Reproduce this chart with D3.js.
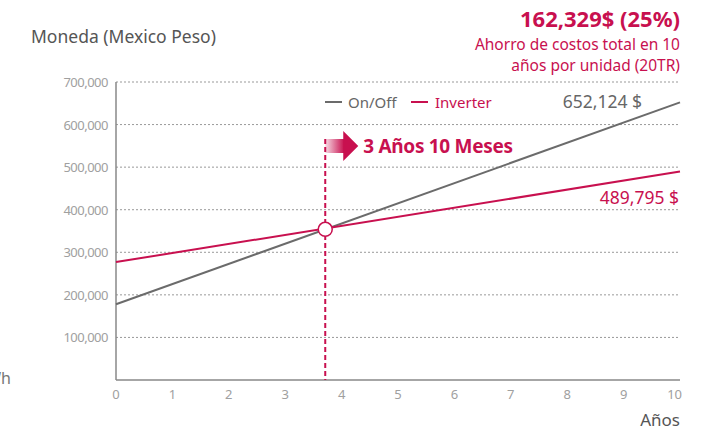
<!DOCTYPE html>
<html>
<head>
<meta charset="utf-8">
<script src="https://cdn.jsdelivr.net/npm/d3@7"></script>
<style>
  body { margin: 0; background: #fff; }
  svg text { font-family: "Noto Sans", "Open Sans", sans-serif; }
</style>
</head>
<body>
<svg id="chart" width="708" height="432"></svg>
<script>
// chart values
const years = [0, 10];
const onOff = [178000, 652124];
const inverter = [277000, 489795];
const yTicks = [100000, 200000, 300000, 400000, 500000, 600000, 700000];
const xTicks = [0, 1, 2, 3, 4, 5, 6, 7, 8, 9, 10];
const payback = 3.71;   // where the marker sits in the picture
const crossValue = 354000;

const red = "#c8104f";
const grey = "#6b6b6b";

const svg = d3.select("#chart");
const x = d3.scaleLinear().domain([0, 10]).range([116, 680]);
const y = d3.scaleLinear().domain([0, 700000]).range([380, 82]);

// gridlines
svg.append("g").selectAll("line")
  .data(yTicks)
  .enter().append("line")
  .attr("x1", x(0)).attr("x2", x(10))
  .attr("y1", d => y(d)).attr("y2", d => y(d))
  .attr("stroke", "#999").attr("stroke-width", 1)
  .attr("stroke-dasharray", "2,2");

// y tick labels
svg.append("g").selectAll("text")
  .data(yTicks)
  .enter().append("text")
  .attr("x", 108).attr("y", d => y(d) + 5)
  .attr("text-anchor", "end")
  .attr("font-size", 13).attr("fill", "#a0a0a0")
  .attr("letter-spacing", "-0.5")
  .text(d => d3.format(",")(d));

// x tick labels
svg.append("g").selectAll("text")
  .data(xTicks)
  .enter().append("text")
  .attr("x", d => x(d)).attr("y", 399)
  .attr("text-anchor", d => d === 10 ? "end" : "middle")
  .attr("dx", d => d === 10 ? 2 : 0)
  .attr("font-size", 13).attr("fill", "#a0a0a0")
  .text(d => d);

// axes
svg.append("line")
  .attr("x1", x(0)).attr("x2", x(0)).attr("y1", y(700000)).attr("y2", y(0))
  .attr("stroke", "#888").attr("stroke-width", 1.5);
svg.append("line")
  .attr("x1", x(0)).attr("x2", x(10)).attr("y1", y(0)).attr("y2", y(0))
  .attr("stroke", "#888").attr("stroke-width", 1.5);

// payback dashed line
svg.append("line")
  .attr("x1", x(payback)).attr("x2", x(payback))
  .attr("y1", 139).attr("y2", y(0))
  .attr("stroke", red).attr("stroke-width", 2)
  .attr("stroke-dasharray", "5,3");

// series lines
const line = d3.line().x(d => x(d[0])).y(d => y(d[1]));
svg.append("path")
  .datum(d3.zip(years, onOff))
  .attr("d", line).attr("fill", "none")
  .attr("stroke", grey).attr("stroke-width", 2);
svg.append("path")
  .datum(d3.zip(years, inverter))
  .attr("d", line).attr("fill", "none")
  .attr("stroke", red).attr("stroke-width", 2);

// crossing marker
svg.append("circle")
  .attr("cx", x(payback)).attr("cy", y(crossValue)).attr("r", 7)
  .attr("fill", "#fff").attr("stroke", red).attr("stroke-width", 1.5);

// arrow
const defs = svg.append("defs");
const grad = defs.append("linearGradient").attr("id", "arrowGrad");
grad.append("stop").attr("offset", "0%").attr("stop-color", red).attr("stop-opacity", 0.15);
grad.append("stop").attr("offset", "100%").attr("stop-color", red).attr("stop-opacity", 1);
const ax = x(payback);
svg.append("rect")
  .attr("x", ax).attr("y", 139).attr("width", 19).attr("height", 14)
  .attr("fill", "url(#arrowGrad)");
svg.append("path")
  .attr("d", `M${ax + 18},131 L${ax + 33},146 L${ax + 18},161 Z`)
  .attr("fill", red);
svg.append("text")
  .attr("x", ax + 38).attr("y", 153)
  .attr("font-size", 19).attr("font-weight", "bold").attr("fill", red)
  .attr("letter-spacing", "-0.3")
  .text("3 Años 10 Meses");

// legend
svg.append("line").attr("x1", 325).attr("x2", 342).attr("y1", 102).attr("y2", 102)
  .attr("stroke", grey).attr("stroke-width", 2);
svg.append("text").attr("x", 348).attr("y", 108)
  .attr("font-size", 15).attr("fill", "#666").text("On/Off");
svg.append("line").attr("x1", 411).attr("x2", 428).attr("y1", 102).attr("y2", 102)
  .attr("stroke", red).attr("stroke-width", 2);
svg.append("text").attr("x", 435).attr("y", 108)
  .attr("font-size", 15).attr("fill", red).text("Inverter");

// end value labels
svg.append("text").attr("x", 642).attr("y", 108)
  .attr("text-anchor", "end").attr("font-size", 17.5).attr("fill", "#666")
  .text(d3.format(",")(onOff[1]) + " $");
svg.append("text").attr("x", 679).attr("y", 204)
  .attr("text-anchor", "end").attr("font-size", 17.5).attr("fill", red)
  .text(d3.format(",")(inverter[1]) + " $");

// titles
svg.append("text").attr("x", 31).attr("y", 43)
  .attr("font-size", 17.5).attr("fill", "#555").text("Moneda (Mexico Peso)");
svg.append("text").attr("x", 680).attr("y", 426)
  .attr("text-anchor", "end").attr("font-size", 17).attr("fill", "#555").text("Años");
svg.append("text").attr("x", 11).attr("y", 384)
  .attr("text-anchor", "end").attr("font-size", 16).attr("fill", "#777").text("kWh");

// savings note
svg.append("text").attr("x", 680).attr("y", 27)
  .attr("text-anchor", "end").attr("font-size", 22).attr("font-weight", "bold").attr("fill", red)
  .text("162,329$ (25%)");
svg.append("text").attr("x", 680).attr("y", 50)
  .attr("text-anchor", "end").attr("font-size", 15.5).attr("fill", red)
  .text("Ahorro de costos total en 10");
svg.append("text").attr("x", 680).attr("y", 71)
  .attr("text-anchor", "end").attr("font-size", 15.5).attr("fill", red)
  .text("años por unidad (20TR)");
</script>
</body>
</html>
